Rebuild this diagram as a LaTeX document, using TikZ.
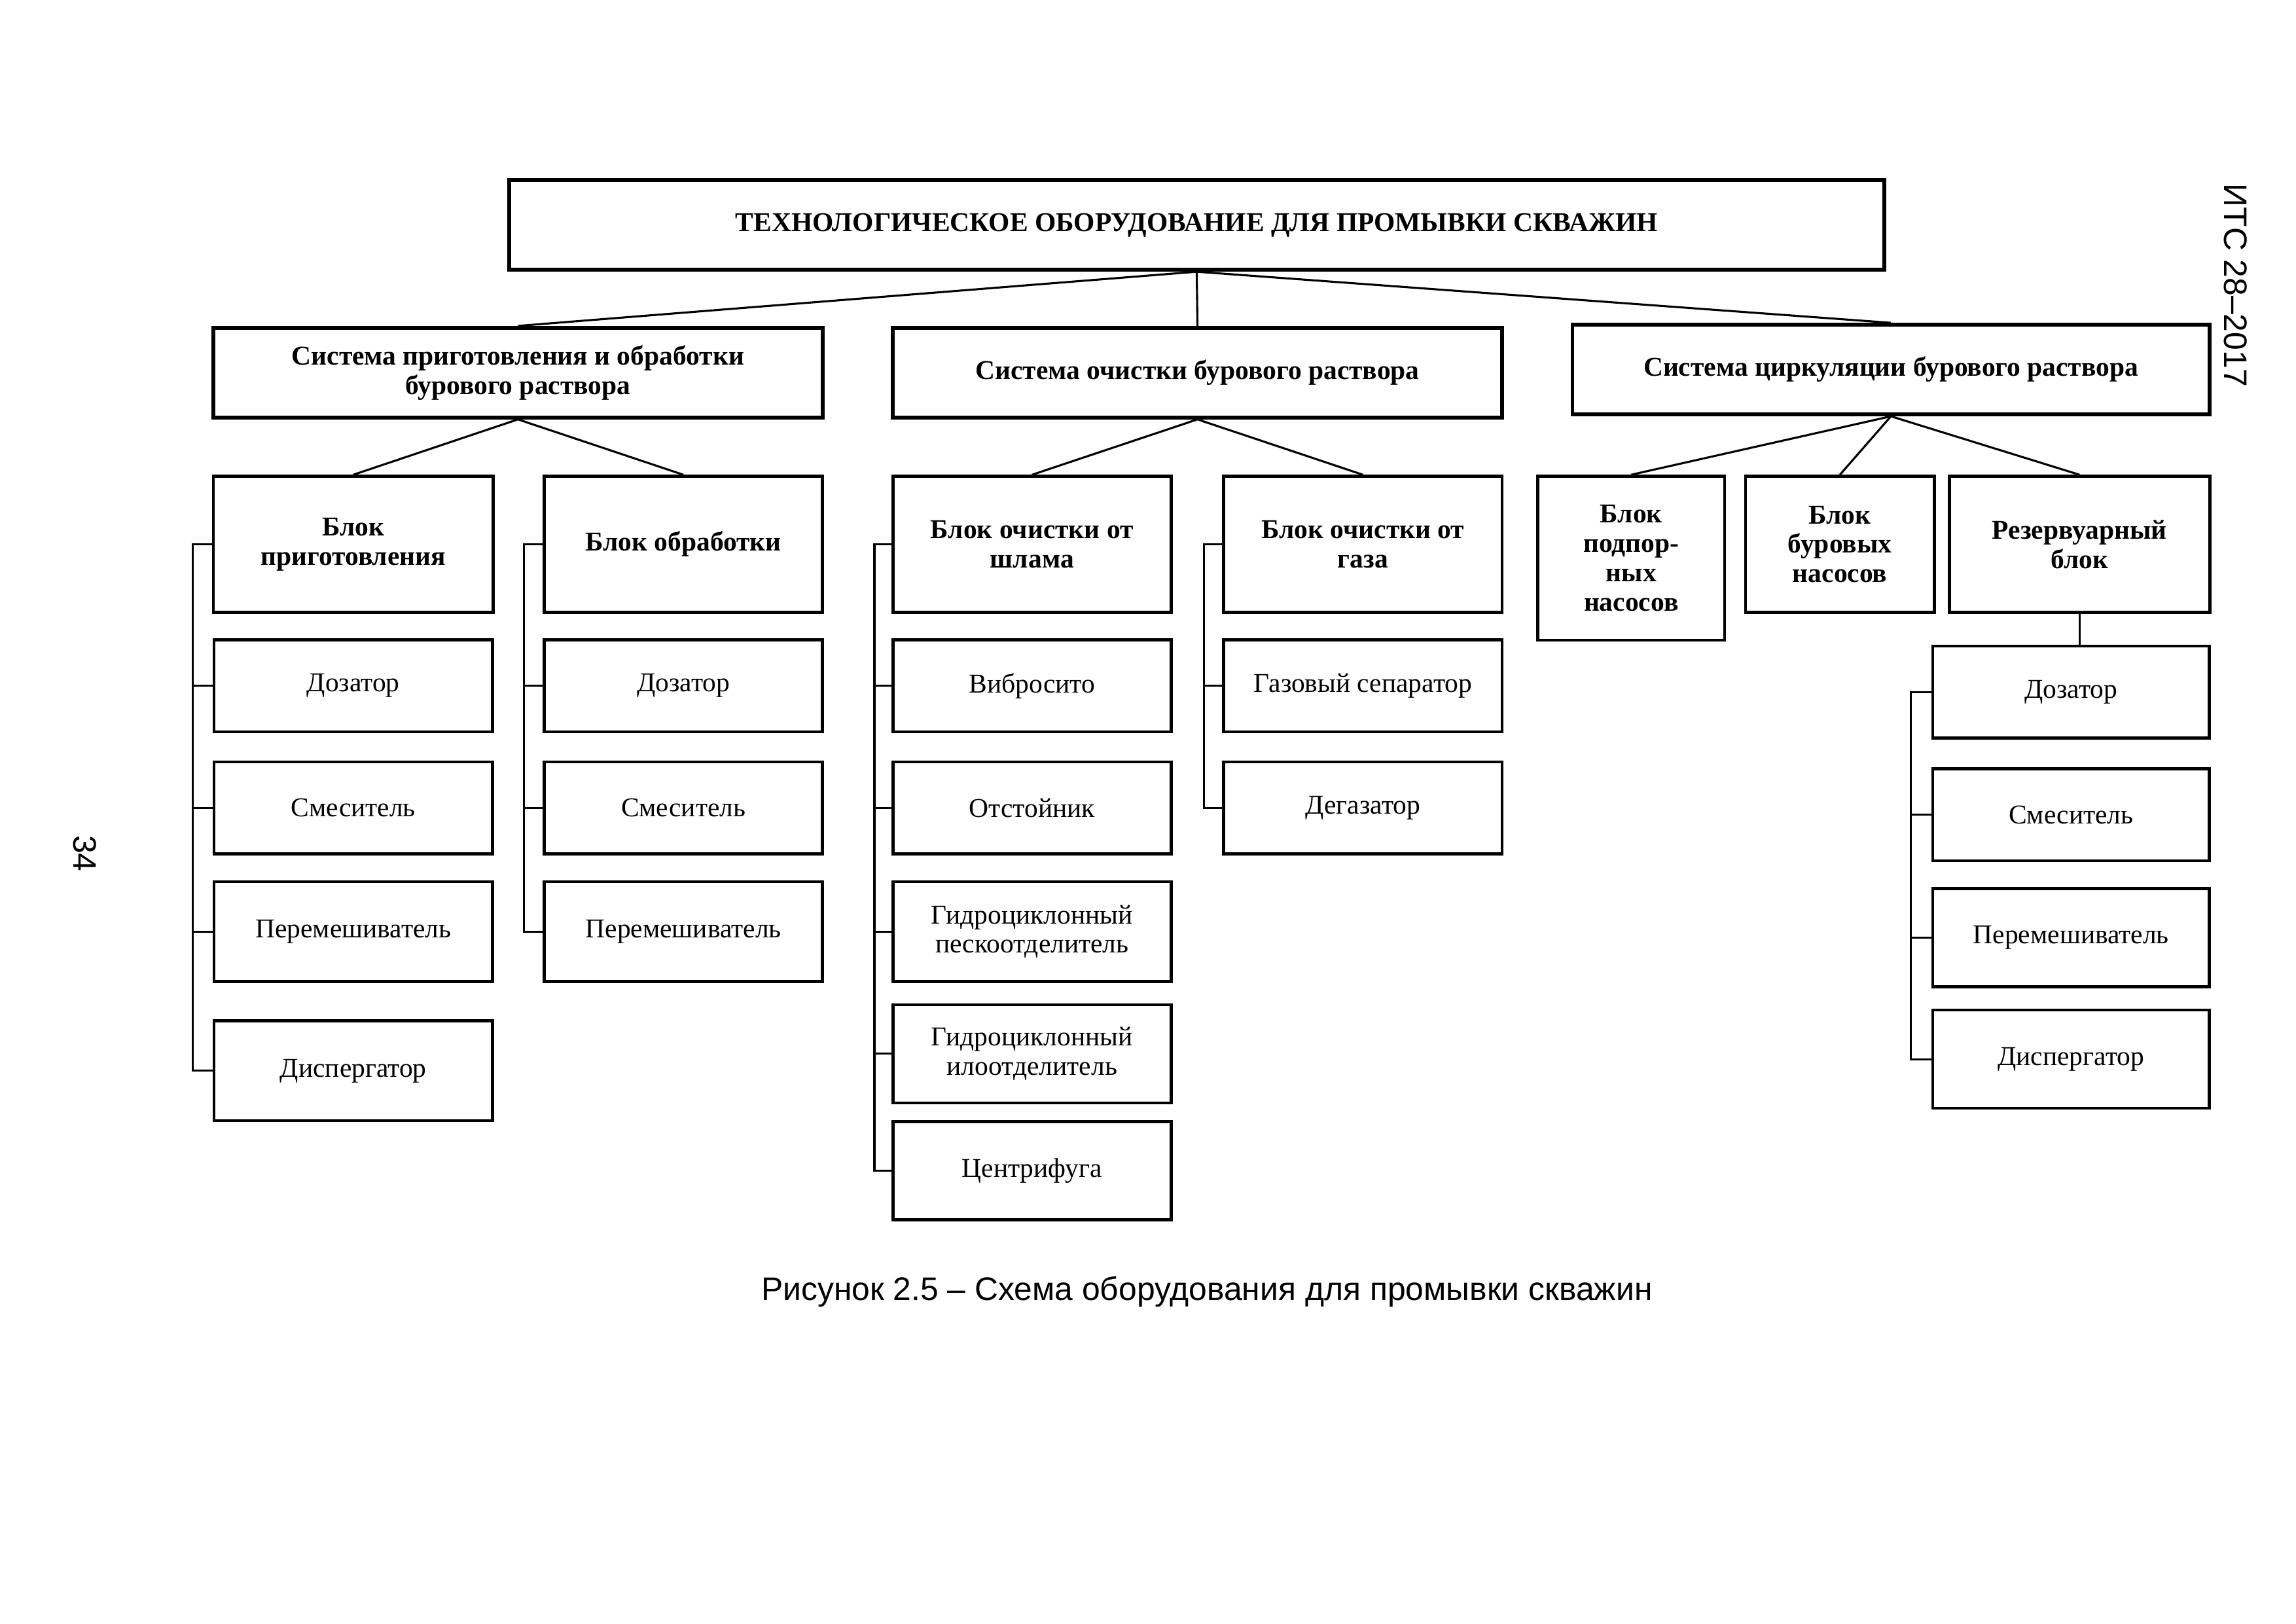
\documentclass[tikz,border=0pt]{standalone}
\usepackage{fontspec}
\setmainfont{Liberation Serif}
\newfontfamily\arialfont{Liberation Sans}
\usetikzlibrary{positioning,calc}

\begin{document}
\begin{tikzpicture}[
  sysbox/.style={draw,line width=1.4pt,minimum height=1.16cm,align=center,inner sep=1pt,font=\fontsize{10}{10.8}\selectfont\bfseries},
  blbox/.style={draw,line width=1.1pt,minimum height=1.76cm,align=center,inner sep=1pt,font=\fontsize{10}{10.8}\selectfont\bfseries},
  itbox/.style={draw,line width=1.1pt,minimum width=3.6cm,align=center,inner sep=1pt,font=\fontsize{10}{10.8}\selectfont},
  conn/.style={line width=0.75pt}]
\useasboundingbox (0,0) rectangle (29.7,21.0);
% Top level
\draw (15.48,18.09) node[sysbox,minimum width=17.79cm](top){ТЕХНОЛОГИЧЕСКОЕ ОБОРУДОВАНИЕ ДЛЯ ПРОМЫВКИ СКВАЖИН};
% Systems
\draw (6.70,16.18) node[sysbox,minimum width=7.88cm](sys1){Система приготовления и обработки\\бурового раствора};
\draw (15.49,16.18) node[sysbox,minimum width=7.88cm](sys2){Система очистки бурового раствора};
\draw (24.46,16.22) node[sysbox,minimum width=8.24cm](sys3){Система циркуляции бурового раствора};
\draw[conn] (top.south) -- (sys1.north) (top.south) -- (sys2.north) (top.south) -- (sys3.north);
% Blocks
\draw (4.57,13.96) node[blbox,minimum width=3.62cm](bl1){Блок\\приготовления};
\draw (8.84,13.96) node[blbox,minimum width=3.6cm](bl2){Блок обработки};
\draw (13.35,13.96) node[blbox,minimum width=3.6cm](bl3){Блок очистки от\\шлама};
\draw (17.63,13.96) node[blbox,minimum width=3.6cm](bl4){Блок очистки от\\газа};
\draw (21.10,13.78) node[blbox,minimum width=2.42cm,minimum height=2.12cm](bl5){Блок\\подпор-\\ных\\насосов};
\draw (23.80,13.96) node[blbox,minimum width=2.44cm](bl6){Блок\\буровых\\насосов};
\draw (26.90,13.96) node[blbox,minimum width=3.37cm](bl7){Резервуарный\\блок};
\draw[conn] (sys1.south) -- (bl1.north) (sys1.south) -- (bl2.north);
\draw[conn] (sys2.south) -- (bl3.north) (sys2.south) -- (bl4.north);
\draw[conn] (sys3.south) -- (bl5.north) (sys3.south) -- (bl6.north) (sys3.south) -- (bl7.north);
% Column 1
\draw (4.57,12.13) node[itbox,minimum height=1.19cm](c1_1){Дозатор};
\draw (4.57,10.55) node[itbox,minimum height=1.19cm](c1_2){Смеситель};
\draw (4.57,8.95) node[itbox,minimum height=1.29cm](c1_3){Перемешиватель};
\draw (4.57,7.15) node[itbox,minimum height=1.29cm](c1_4){Диспергатор};
\draw[conn] (bl1.west) -- ++(-0.25,0) |- (c1_4.west);
\foreach \i in {1,2,3} \draw[conn] (c1_\i.west) -- ++(-0.25,0);
% Column 2
\draw (8.84,12.13) node[itbox,minimum height=1.19cm](c2_1){Дозатор};
\draw (8.84,10.55) node[itbox,minimum height=1.19cm](c2_2){Смеситель};
\draw (8.84,8.95) node[itbox,minimum height=1.29cm](c2_3){Перемешиватель};
\draw[conn] (bl2.west) -- ++(-0.24,0) |- (c2_3.west);
\foreach \i in {1,2} \draw[conn] (c2_\i.west) -- ++(-0.24,0);
% Column 3
\draw (13.35,12.13) node[itbox,minimum height=1.19cm](c3_1){Вибросито};
\draw (13.35,10.55) node[itbox,minimum height=1.19cm](c3_2){Отстойник};
\draw (13.35,8.95) node[itbox,minimum height=1.29cm](c3_3){Гидроциклонный\\пескоотделитель};
\draw (13.35,7.37) node[itbox,minimum height=1.27cm](c3_4){Гидроциклонный\\илоотделитель};
\draw (13.35,5.86) node[itbox,minimum height=1.27cm](c3_5){Центрифуга};
\draw[conn] (bl3.west) -- ++(-0.22,0) |- (c3_5.west);
\foreach \i in {1,...,4} \draw[conn] (c3_\i.west) -- ++(-0.22,0);
% Column 4
\draw (17.63,12.13) node[itbox,minimum height=1.19cm](c4_1){Газовый сепаратор};
\draw (17.63,10.55) node[itbox,minimum height=1.19cm](c4_2){Дегазатор};
\draw[conn] (bl4.west) -- ++(-0.24,0) |- (c4_2.west);
\draw[conn] (c4_1.west) -- ++(-0.24,0);
% Column 5
\draw (26.79,12.05) node[itbox,minimum width=3.58cm,minimum height=1.19cm](c5_1){Дозатор};
\draw (26.79,10.46) node[itbox,minimum width=3.58cm,minimum height=1.19cm](c5_2){Смеситель};
\draw (26.79,8.87) node[itbox,minimum width=3.58cm,minimum height=1.27cm](c5_3){Перемешиватель};
\draw (26.79,7.30) node[itbox,minimum width=3.58cm,minimum height=1.27cm](c5_4){Диспергатор};
\draw[conn] (bl7.south) -- (bl7.south |- c5_1.north);
\draw[conn] (c5_1.west) -- ++(-0.26,0) |- (c5_4.west);
\foreach \i in {2,3} \draw[conn] (c5_\i.west) -- ++(-0.26,0);
% Caption and page marks
\draw (15.61,4.29) node[font=\arialfont\fontsize{12}{14}\selectfont](cap){Рисунок 2.5 – Схема оборудования для промывки скважин};
\draw (28.92,17.31) node[rotate=-90,font=\arialfont\fontsize{12}{14}\selectfont](its){ИТС 28–2017};
\draw (1.10,9.96) node[rotate=-90,font=\arialfont\fontsize{12}{14}\selectfont](pg){34};
\end{tikzpicture}
\end{document}
